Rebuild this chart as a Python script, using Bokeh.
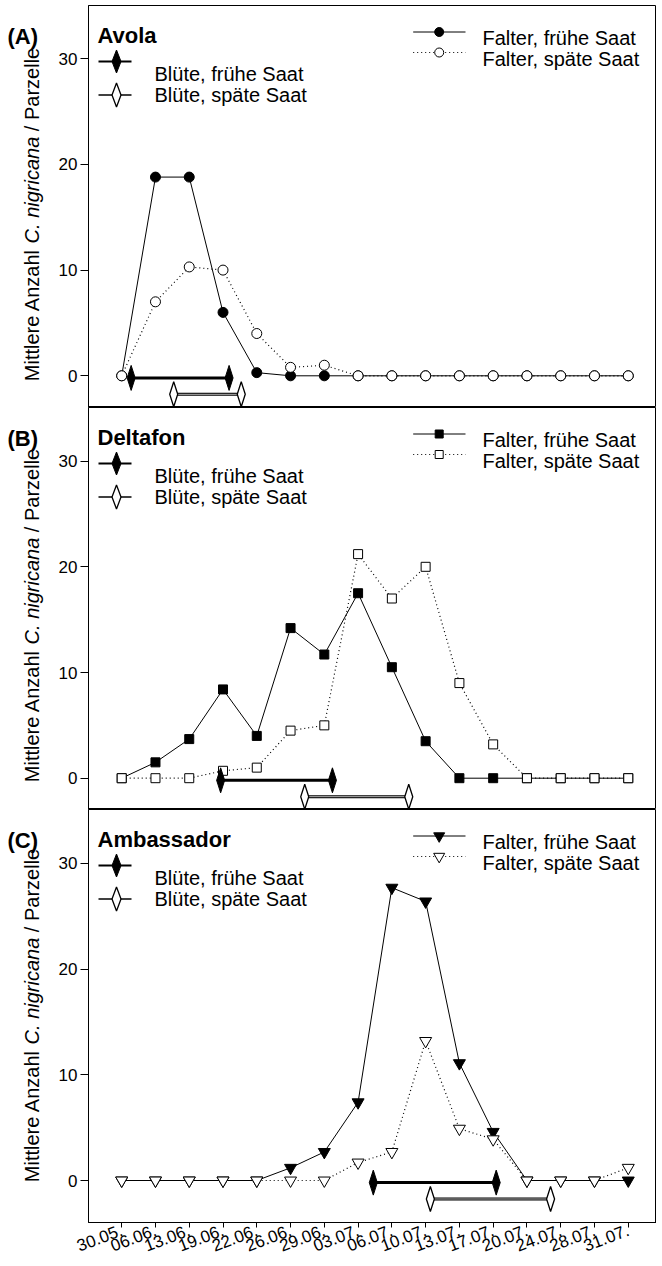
import math
from bokeh.plotting import figure
from bokeh.layouts import column, row
from bokeh.models import Range1d, FixedTicker, Label
from bokeh.core.properties import value
from bokeh.embed import file_html
from bokeh.resources import INLINE

# ---------------- data ----------------
dates = ["30.05.", "06.06.", "13.06.", "19.06.", "22.06.", "26.06.", "29.06.", "03.07.",
         "06.07.", "10.07.", "13.07.", "17.07.", "20.07.", "24.07.", "28.07.", "31.07."]

avola_frueh = [0, 18.8, 18.8, 6.0, 0.3, 0, 0, 0, 0, 0, 0, 0, 0, 0, 0, 0]
avola_spaet = [0, 7.0, 10.3, 10.0, 4.0, 0.8, 1.0, 0, 0, 0, 0, 0, 0, 0, 0, 0]

deltafon_frueh = [0, 1.5, 3.7, 8.4, 4.0, 14.2, 11.7, 17.5, 10.5, 3.5, 0, 0, 0, 0, 0, 0]
deltafon_spaet = [0, 0, 0, 0.7, 1.0, 4.5, 5.0, 21.2, 17.0, 20.0, 9.0, 3.2, 0, 0, 0, 0]

ambassador_frueh = [0, 0, 0, 0, 0, 1.2, 2.7, 7.4, 27.7, 26.4, 11.1, 4.6, 0, 0, 0, 0]
ambassador_spaet = [0, 0, 0, 0, 0, 0, 0, 1.7, 2.7, 13.2, 4.9, 3.9, 0, 0, 0, 1.2]

# flowering period (position on the date axis) per cultivar
bluete_frueh_start = [0.28, 2.93, 7.45]
bluete_frueh_end = [3.18, 6.24, 11.09]
bluete_spaet_start = [1.54, 5.42, 9.14]
bluete_spaet_end = [3.54, 8.50, 12.70]

cultivars = ["Avola", "Deltafon", "Ambassador"]
panel_letters = ["(A)", "(B)", "(C)"]
series_frueh = [avola_frueh, deltafon_frueh, ambassador_frueh]
series_spaet = [avola_spaet, deltafon_spaet, ambassador_spaet]
y_ticks = [0, 10, 20, 30]

# ---------------- style / layout (pixels) ----------------
FONT = "Liberation Sans"
markers = ["circle", "square", "inverted_triangle"]
marker_sizes = [10, 9, 12]

STRIP_W = 50        # left strip that carries panel letters and y labels
X_IDX0 = 121.2      # page x of first date
XS = 33.77          # px per date step
YS = 10.57          # px per count unit
FRAME_LEFT = 88
FRAME_W = 568
frame_tops = [5, 407, 809]
frame_heights = [402, 402, 413]
zero_page = [375.3, 777.7, 1180.0]
BOTTOM = 42
TOTAL_H = frame_tops[2] + frame_heights[2] + BOTTOM

ARIAL_W = {' ': 278, '.': 278, '/': 278, 'M': 833, 'i': 222, 't': 278, 'l': 222, 'e': 556,
           'r': 333, 'A': 667, 'n': 556, 'z': 500, 'a': 556, 'h': 556, 'C': 722, 'g': 556,
           'c': 500, 'P': 667}


def text_w(s, size):
    return sum(ARIAL_W.get(ch, 556) for ch in s) / 1000.0 * size


ylabel_parts = [("Mittlere Anzahl ", "normal"), ("C. nigricana", "italic"), (" / Parzelle", "normal")]
YLABEL_SIZE = 20
ylabel_centers = [214, 615, 1015]

# ---------------- left strip ----------------
strip = figure(width=STRIP_W, height=TOTAL_H, x_range=Range1d(0, STRIP_W), y_range=Range1d(0, TOTAL_H),
               output_backend="svg", toolbar_location=None, min_border=0,
               x_axis_location=None, y_axis_location=None)
strip.outline_line_color = None
strip.grid.visible = False
for i in range(3):
    T = frame_tops[i]
    strip.text(x=[7], y=[TOTAL_H - (T + 31)], text=[panel_letters[i]], text_font=value(FONT),
               text_font_size="22px", text_font_style="bold", text_color="black",
               text_baseline="alphabetic", text_align="left")
    total = sum(text_w(s, YLABEL_SIZE) for s, _ in ylabel_parts)
    start = ylabel_centers[i] + total / 2.0
    for s, style in ylabel_parts:
        lead = len(s) - len(s.lstrip(" "))
        pos = start - text_w(" " * lead, YLABEL_SIZE)
        strip.text(x=[31.5], y=[TOTAL_H - pos], text=[s.strip(" ")], angle=math.pi / 2,
                   text_font=value(FONT), text_font_size="%dpx" % YLABEL_SIZE,
                   text_font_style=style, text_color="black",
                   text_baseline="middle", text_align="left")
        start -= text_w(s, YLABEL_SIZE)

# ---------------- panels ----------------
figs = []
for i in range(3):
    last = (i == 2)
    zp = zero_page[i]
    T = frame_tops[i]

    def X(px):
        return (px - X_IDX0) / XS

    def Y(py, zp=zp):
        return (zp - py) / YS

    H = frame_heights[i]
    p = figure(width=FRAME_LEFT - STRIP_W + FRAME_W,
               height=H + (BOTTOM if last else 0) + (T if i == 0 else 0),
               x_range=Range1d(X(FRAME_LEFT), X(FRAME_LEFT + FRAME_W)),
               y_range=Range1d(Y(T + H), Y(T)),
               output_backend="svg", toolbar_location=None,
               min_border_left=FRAME_LEFT - STRIP_W, min_border_right=0,
               min_border_top=(T if i == 0 else 0),
               min_border_bottom=(BOTTOM if last else 0),
               x_axis_location=("below" if last else None))
    p.outline_line_color = "black"
    p.outline_line_width = 1
    p.grid.visible = False
    p.background_fill_color = "white"
    p.border_fill_color = "white"

    ya = p.yaxis[0]
    ya.ticker = FixedTicker(ticks=y_ticks)
    ya.major_tick_out = 8
    ya.major_tick_in = 0
    ya.minor_tick_out = 0
    ya.minor_tick_in = 0
    ya.axis_line_color = "black"
    ya.major_tick_line_color = "black"
    ya.major_label_text_font = FONT
    ya.major_label_text_font_size = "17px"
    ya.major_label_text_color = "black"
    ya.major_label_standoff = 3

    if last:
        xa = p.xaxis[0]
        xa.ticker = FixedTicker(ticks=list(range(len(dates))))
        xa.major_label_overrides = {k: d for k, d in enumerate(dates)}
        xa.major_label_orientation = 0.36
        xa.major_tick_out = 5
        xa.major_tick_in = 0
        xa.minor_tick_out = 0
        xa.minor_tick_in = 0
        xa.axis_line_color = "black"
        xa.major_label_text_font = FONT
        xa.major_label_text_font_size = "17px"
        xa.major_label_text_color = "black"
        xa.major_label_standoff = 2

    xs = list(range(len(dates)))
    m = markers[i]
    ms = marker_sizes[i]
    # early sowing (filled, solid)
    p.line(xs, series_frueh[i], line_color="black", line_width=1)
    p.scatter(xs, series_frueh[i], marker=m, size=ms, fill_color="black", line_color="black", line_width=1)
    # late sowing (open, dotted)
    p.line(xs, series_spaet[i], line_color="black", line_width=1.2, line_dash="1 3")
    p.scatter(xs, series_spaet[i], marker=m, size=ms, fill_color="white", line_color="black", line_width=1)

    # flowering bars
    def diamond_xy(xc, yc, hw, hh):
        return ([xc, xc + hw / XS, xc, xc - hw / XS], [yc + hh / YS, yc, yc - hh / YS, yc])

    yb1, yb2 = -0.2, -1.75
    p.line([bluete_frueh_start[i], bluete_frueh_end[i]], [yb1, yb1], line_color="black", line_width=3)
    p.line([bluete_spaet_start[i], bluete_spaet_end[i]], [yb2, yb2], line_color="black", line_width=3)
    p.line([bluete_spaet_start[i], bluete_spaet_end[i]], [yb2, yb2], line_color="#b8b8b8", line_width=1)
    dfx, dfy, dsx, dsy = [], [], [], []
    for xc in (bluete_frueh_start[i], bluete_frueh_end[i]):
        a, b = diamond_xy(xc, yb1, 4, 12.5)
        dfx.append(a); dfy.append(b)
    for xc in (bluete_spaet_start[i], bluete_spaet_end[i]):
        a, b = diamond_xy(xc, yb2, 4, 12.5)
        dsx.append(a); dsy.append(b)
    p.patches(dfx, dfy, fill_color="black", line_color="black", line_width=1)
    p.patches(dsx, dsy, fill_color="white", line_color="black", line_width=1.3)

    # ---- legends ----
    N = T
    r1, r2 = N + 56, N + 89.5
    p.line([X(98), X(131)], [Y(r1), Y(r1)], line_color="black", line_width=2.2)
    a, b = diamond_xy(X(116), Y(r1), 4.5, 11.5)
    p.patch(a, b, fill_color="black", line_color="black", line_width=1)
    p.line([X(98), X(131)], [Y(r2), Y(r2)], line_color="black", line_width=1.6)
    a, b = diamond_xy(X(116), Y(r2), 4.5, 12)
    p.patch(a, b, fill_color="white", line_color="black", line_width=1.3)
    p.add_layout(Label(x=X(154), y=Y(N + 68), text="Blüte, frühe Saat", text_font=FONT,
                       text_font_size="20px", text_color="black", text_baseline="alphabetic"))
    p.add_layout(Label(x=X(154), y=Y(N + 89.5), text="Blüte, späte Saat", text_font=FONT,
                       text_font_size="20px", text_color="black", text_baseline="alphabetic"))
    q1, q2 = N + 26.5, N + 47
    p.line([X(412.7), X(465)], [Y(q1), Y(q1)], line_color="black", line_width=1)
    p.scatter([X(438.7)], [Y(q1)], marker=m, size=ms - 1, fill_color="black", line_color="black")
    p.line([X(412.7), X(465)], [Y(q2), Y(q2)], line_color="black", line_width=1.2, line_dash="1 3")
    p.scatter([X(438.7)], [Y(q2)], marker=m, size=ms - 1, fill_color="white", line_color="black")
    p.add_layout(Label(x=X(482), y=Y(N + 32.5), text="Falter, frühe Saat", text_font=FONT,
                       text_font_size="20px", text_color="black", text_baseline="alphabetic"))
    p.add_layout(Label(x=X(482), y=Y(N + 53), text="Falter, späte Saat", text_font=FONT,
                       text_font_size="20px", text_color="black", text_baseline="alphabetic"))

    p.add_layout(Label(x=X(97), y=Y(N + 29.5), text=cultivars[i], text_font=FONT,
                       text_font_size="22px", text_font_style="bold", text_color="black",
                       text_baseline="alphabetic"))
    figs.append(p)

layout = row(strip, column(*figs, spacing=0), spacing=0)
open("out.html", "w").write(file_html(layout, INLINE))
